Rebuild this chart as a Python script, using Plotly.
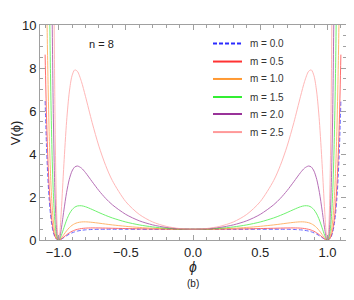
import plotly.graph_objects as go

# ---- data ----
phi = [-1.1, -1.09, -1.08, -1.07, -1.06, -1.05, -1.04, -1.03, -1.02, -1.01, -1.0,
       -0.99, -0.98, -0.97, -0.96, -0.94, -0.92, -0.9, -0.88, -0.86, -0.83, -0.8,
       -0.75, -0.7, -0.65, -0.6, -0.5, -0.4, -0.3, -0.2, -0.1, 0.0,
       0.1, 0.2, 0.3, 0.4, 0.5, 0.6, 0.65, 0.7, 0.75, 0.8, 0.83, 0.86, 0.88, 0.9,
       0.92, 0.94, 0.96, 0.97, 0.98, 0.99, 1.0, 1.01, 1.02, 1.03, 1.04, 1.05, 1.06,
       1.07, 1.08, 1.09, 1.1]

v_m00 = [6.462, 4.411, 2.943, 1.906, 1.186, 0.7, 0.381, 0.183, 0.07, 0.015, 0,
         0.011, 0.038, 0.074, 0.115, 0.197, 0.271, 0.332, 0.379, 0.415, 0.451, 0.472,
         0.49, 0.497, 0.499, 0.5, 0.5, 0.5, 0.5, 0.5, 0.5, 0.5,
         0.5, 0.5, 0.5, 0.5, 0.5, 0.5, 0.499, 0.497, 0.49, 0.472, 0.451, 0.415, 0.379, 0.332,
         0.271, 0.197, 0.115, 0.074, 0.038, 0.011, 0, 0.015, 0.07, 0.183, 0.381, 0.7, 1.186,
         1.906, 2.943, 4.411, 6.462]

v_m05 = [8.622, 5.856, 3.887, 2.505, 1.552, 0.911, 0.494, 0.236, 0.089, 0.019, 0,
         0.014, 0.048, 0.093, 0.144, 0.244, 0.333, 0.404, 0.458, 0.496, 0.533, 0.552,
         0.562, 0.560, 0.554, 0.546, 0.532, 0.520, 0.511, 0.505, 0.501, 0.5,
         0.501, 0.505, 0.511, 0.520, 0.532, 0.546, 0.554, 0.560, 0.562, 0.552, 0.533, 0.496, 0.458, 0.404,
         0.333, 0.244, 0.144, 0.093, 0.048, 0.014, 0, 0.019, 0.089, 0.236, 0.494, 0.911, 1.552,
         2.505, 3.887, 5.856, 8.622]

v_m10 = [17.99, 12.086, 7.935, 5.058, 3.100, 1.800, 0.965, 0.456, 0.171, 0.036, 0,
         0.026, 0.088, 0.169, 0.258, 0.430, 0.574, 0.682, 0.757, 0.805, 0.839, 0.845,
         0.821, 0.783, 0.741, 0.702, 0.636, 0.584, 0.546, 0.520, 0.505, 0.5,
         0.505, 0.520, 0.546, 0.584, 0.636, 0.702, 0.741, 0.783, 0.821, 0.845, 0.839, 0.805, 0.757, 0.682,
         0.574, 0.430, 0.258, 0.169, 0.088, 0.026, 0, 0.036, 0.171, 0.456, 0.965, 1.800, 3.100,
         5.058, 7.935, 12.086, 17.99]

v_m15 = [47.09, 31.26, 20.28, 12.776, 7.738, 4.439, 2.352, 1.098, 0.406, 0.085, 0,
         0.059, 0.200, 0.380, 0.571, 0.930, 1.212, 1.406, 1.524, 1.583, 1.593, 1.548,
         1.420, 1.278, 1.144, 1.026, 0.838, 0.703, 0.608, 0.546, 0.511, 0.5,
         0.511, 0.546, 0.608, 0.703, 0.838, 1.026, 1.144, 1.278, 1.420, 1.548, 1.593, 1.583, 1.524, 1.406,
         1.212, 0.930, 0.571, 0.380, 0.200, 0.059, 0, 0.085, 0.406, 1.098, 2.352, 4.439, 7.738,
         12.776, 20.28, 31.26, 47.09]

v_m20 = [134.84, 88.52, 56.79, 35.37, 21.18, 12.016, 6.297, 2.905, 1.063, 0.219, 0,
         0.150, 0.499, 0.938, 1.396, 2.219, 2.826, 3.205, 3.394, 3.442, 3.345, 3.137,
         2.712, 2.298, 1.938, 1.638, 1.191, 0.894, 0.703, 0.584, 0.520, 0.5,
         0.520, 0.584, 0.703, 0.894, 1.191, 1.638, 1.938, 2.298, 2.712, 3.137, 3.345, 3.442, 3.394, 3.205,
         2.826, 2.219, 1.396, 0.938, 0.499, 0.150, 0, 0.219, 1.063, 2.905, 6.297, 12.016, 21.18,
         35.37, 56.79, 88.52, 134.84]

v_m25 = [398.5, 258.9, 164.4, 101.3, 60.01, 33.68, 17.46, 7.972, 2.885, 0.589, 0,
         0.394, 1.298, 2.413, 3.551, 5.525, 6.884, 7.636, 7.910, 7.846, 7.373, 6.684,
         5.457, 4.364, 3.472, 2.765, 1.783, 1.191, 0.838, 0.636, 0.532, 0.5,
         0.532, 0.636, 0.838, 1.191, 1.783, 2.765, 3.472, 4.364, 5.457, 6.684, 7.373, 7.846, 7.910, 7.636,
         6.884, 5.525, 3.551, 2.413, 1.298, 0.394, 0, 0.589, 2.885, 7.972, 17.46, 33.68, 60.01,
         101.3, 164.4, 258.9, 398.5]

labels = ["m = 0.0", "m = 0.5", "m = 1.0", "m = 1.5", "m = 2.0", "m = 2.5"]
series = [v_m00, v_m05, v_m10, v_m15, v_m20, v_m25]
for s in series:
    assert len(s) == len(phi)

# ---- styles ----
colors = ["#2b2bff", "#ff3333", "#ff9933", "#33ee33", "#993399", "#ff9999"]
dashes = ["4px,2px", "solid", "solid", "solid", "solid", "solid"]
FONT = "Liberation Sans, Arial, sans-serif"

fig = go.Figure()
for vals, c, d, lab in zip(series, colors, dashes, labels):
    fig.add_trace(go.Scatter(x=phi, y=vals, mode="lines", name=lab,
                             line=dict(color=c, width=1, dash=d, shape="spline", smoothing=0.8),
                             opacity=0.7, showlegend=False, hoverinfo="skip"))

# manual legend (exact row spacing of the reference)
leg_y = [0.914, 0.830, 0.749, 0.665, 0.586, 0.502]
shapes = []
annotations = []
for yy, c, d, lab in zip(leg_y, colors, dashes, labels):
    shapes.append(dict(type="line", xref="paper", yref="paper", x0=0.5654, x1=0.6601,
                       y0=yy, y1=yy, line=dict(color=c, width=2, dash=d)))
    annotations.append(dict(text=lab, xref="paper", yref="paper", x=0.6797, y=yy,
                            showarrow=False, xanchor="left", yanchor="middle",
                            font=dict(family=FONT, size=10, color="#333")))

annotations += [
    dict(text="n = 8", xref="paper", yref="paper", x=0.2026, y=0.9116,
         showarrow=False, xanchor="center", yanchor="middle",
         font=dict(family=FONT, size=11, color="#222")),
    dict(text="V(ϕ)", xref="paper", yref="paper", x=-0.0775, y=0.498,
         showarrow=False, textangle=-90, xanchor="center", yanchor="middle",
         font=dict(family=FONT, size=13, color="#222")),
    dict(text="<i>ϕ</i>", xref="paper", yref="paper", x=0.5, y=-0.1256,
         showarrow=False, xanchor="center", yanchor="middle",
         font=dict(family=FONT, size=14, color="#222")),
    dict(text="(b)", xref="paper", yref="paper", x=0.5, y=-0.2,
         showarrow=False, xanchor="center", yanchor="middle",
         font=dict(family=FONT, size=10, color="#222")),
]

axis_common = dict(showline=True, linecolor="#a0a0a0", linewidth=1, mirror="ticks",
                   ticks="inside", ticklen=5, tickcolor="#a0a0a0", showgrid=False,
                   zeroline=False, tickfont=dict(family=FONT, size=13, color="#222"))

# page body has an 8px default margin: figure is 346x292 so plot area lands at 40..346 x 25..240
fig.update_layout(
    width=346, height=292,
    margin=dict(l=32, r=8, t=17, b=60),
    paper_bgcolor="white", plot_bgcolor="white",
    font=dict(family=FONT, color="#222"),
    showlegend=False,
    xaxis=dict(range=[-1.138, 1.138], tickmode="linear", tick0=0, dtick=0.5,
               tickformat=".1f",
               minor=dict(dtick=0.1, tick0=0, ticks="inside", ticklen=3, tickcolor="#a0a0a0"),
               **axis_common),
    yaxis=dict(range=[0, 10], tickmode="linear", tick0=0, dtick=2,
               minor=dict(dtick=0.5, tick0=0, ticks="inside", ticklen=3, tickcolor="#a0a0a0"),
               **axis_common),
    shapes=shapes,
    annotations=annotations,
)

fig.write_html("out.html")
